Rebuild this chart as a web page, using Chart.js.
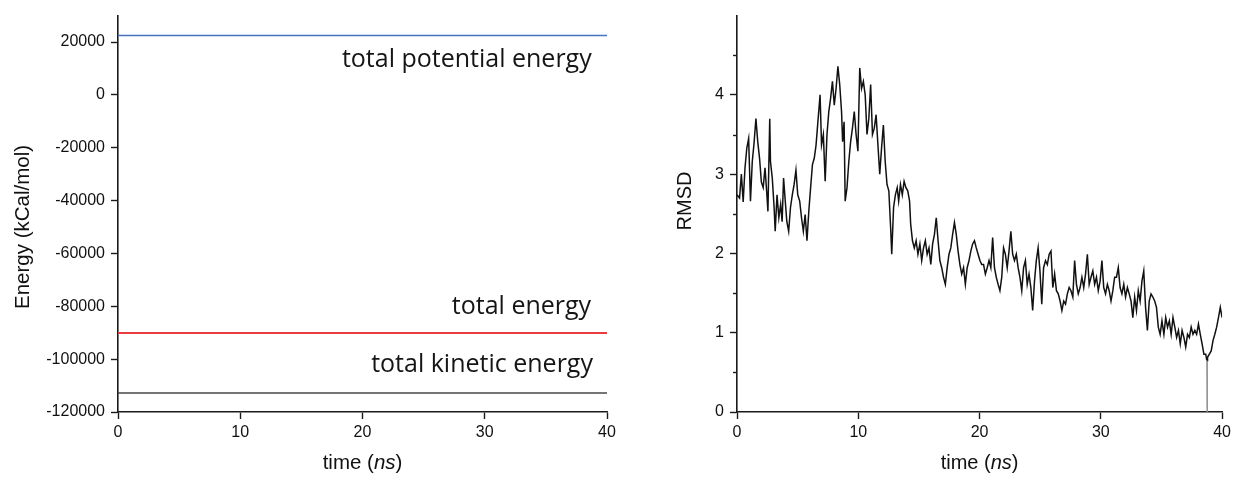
<!DOCTYPE html>
<html>
<head>
<meta charset="utf-8">
<script src="https://cdn.jsdelivr.net/npm/chart.js@4.4.1/dist/chart.umd.min.js"></script>
<style>
  body { margin: 0; background: #fff; }
  #energyBox { position: absolute; left: 0; top: 0; width: 620px; height: 477px; }
  #rmsdBox { position: absolute; left: 620px; top: 0; width: 615px; height: 477px; }
</style>
</head>
<body>
<div id="energyBox"><canvas id="energyChart"></canvas></div>
<div id="rmsdBox"><canvas id="rmsdChart"></canvas></div>
<script>
// energy traces (kCal/mol) over the 40 ns run
const energyTime = [0, 10, 20, 30, 40];
const potentialEnergy = [22500, 22500, 22500, 22500, 22500];
const totalEnergy = [-90100, -90100, -90100, -90100, -90100];
const kineticEnergy = [-112800, -112800, -112800, -112800, -112800];

const energyTicks = [-120000, -100000, -80000, -60000, -40000, -20000, 0, 20000];
const timeTicks = [0, 10, 20, 30, 40];

// labels placed next to the energy traces: right edge (ns) and baseline (kCal/mol)
const energyLabels = ['total potential energy', 'total energy', 'total kinetic energy'];
const energyLabelX = [38.75, 38.7, 38.85];
const energyLabelY = [10600, -83000, -105000];

// backbone RMSD
const rmsdTime = [
  0.00, 0.21, 0.36, 0.51, 0.66, 0.81, 0.96, 1.11, 1.26, 1.41, 1.56, 1.71, 1.86, 2.01, 2.16, 2.31, 2.46, 2.55, 2.70, 2.76,
  2.91, 3.06, 3.15, 3.30, 3.45, 3.60, 3.72, 3.84, 3.96, 4.11, 4.26, 4.41, 4.56, 4.71, 4.86, 5.01, 5.17, 5.32, 5.47, 5.62,
  5.77, 5.92, 6.07, 6.22, 6.37, 6.52, 6.67, 6.85, 6.97, 7.12, 7.27, 7.42, 7.57, 7.72, 7.87, 8.02, 8.17, 8.32, 8.47, 8.62,
  8.71, 8.83, 8.92, 9.07, 9.22, 9.37, 9.52, 9.67, 9.82, 9.97, 10.12, 10.27, 10.42, 10.57, 10.72, 10.87, 11.02, 11.17, 11.32, 11.47,
  11.62, 11.77, 11.92, 12.07, 12.22, 12.37, 12.52, 12.67, 12.76, 12.91, 13.06, 13.21, 13.33, 13.48, 13.63, 13.78, 13.93, 14.08, 14.23, 14.32,
  14.47, 14.62, 14.77, 14.92, 15.08, 15.23, 15.38, 15.53, 15.68, 15.83, 15.98, 16.13, 16.28, 16.43, 16.58, 16.73, 16.88, 17.03, 17.18, 17.33,
  17.48, 17.63, 17.78, 17.93, 18.08, 18.23, 18.38, 18.53, 18.68, 18.83, 18.98, 19.13, 19.28, 19.43, 19.58, 19.73, 19.88, 20.03, 20.18, 20.33,
  20.48, 20.63, 20.78, 20.93, 21.08, 21.23, 21.38, 21.53, 21.68, 21.83, 21.98, 22.13, 22.28, 22.43, 22.58, 22.73, 22.88, 23.03, 23.18, 23.33,
  23.48, 23.63, 23.78, 23.93, 24.08, 24.23, 24.38, 24.53, 24.68, 24.83, 24.98, 25.13, 25.28, 25.44, 25.59, 25.74, 25.89, 26.04, 26.19, 26.34,
  26.49, 26.64, 26.79, 26.94, 27.09, 27.24, 27.39, 27.54, 27.69, 27.84, 27.99, 28.14, 28.29, 28.44, 28.59, 28.74, 28.89, 29.04, 29.19, 29.34,
  29.49, 29.64, 29.79, 29.94, 30.09, 30.24, 30.39, 30.54, 30.69, 30.84, 30.99, 31.14, 31.29, 31.44, 31.59, 31.74, 31.89, 32.04, 32.19, 32.34,
  32.49, 32.64, 32.79, 32.94, 33.09, 33.24, 33.39, 33.54, 33.69, 33.84, 33.99, 34.14, 34.29, 34.44, 34.59, 34.74, 34.89, 35.04, 35.20, 35.35,
  35.50, 35.65, 35.80, 35.95, 36.10, 36.25, 36.40, 36.55, 36.70, 36.85, 37.00, 37.15, 37.30, 37.45, 37.60, 37.75, 37.90, 38.05, 38.20, 38.35,
  38.50, 38.65, 38.74, 38.76, 38.78, 38.80, 38.95, 39.10, 39.25, 39.40, 39.55, 39.70, 39.85, 40.00
];
const rmsdValue = [
  2.74, 2.70, 3.00, 2.65, 3.08, 3.33, 3.45, 2.66, 3.16, 3.40, 3.70, 3.41, 3.20, 2.90, 2.83, 3.08, 2.75, 2.53, 3.70, 3.16,
  2.95, 2.58, 2.28, 2.74, 2.45, 2.62, 2.40, 2.95, 2.70, 2.40, 2.28, 2.58, 2.74, 2.87, 3.05, 2.74, 2.66, 2.45, 2.28, 2.49,
  2.16, 2.53, 2.83, 3.12, 3.20, 3.37, 3.66, 4.00, 3.37, 3.50, 2.91, 3.50, 3.79, 3.96, 4.17, 3.87, 4.08, 4.36, 4.13, 3.79,
  3.41, 3.66, 2.66, 2.83, 3.16, 3.41, 3.58, 3.79, 3.50, 3.29, 4.34, 4.08, 4.17, 4.00, 3.50, 3.70, 4.13, 3.50, 3.58, 3.75,
  3.37, 3.00, 3.33, 3.62, 3.16, 2.87, 2.79, 2.32, 1.99, 2.58, 2.74, 2.83, 2.66, 2.87, 2.74, 2.91, 2.83, 2.79, 2.66, 2.37,
  2.16, 2.07, 2.16, 1.99, 2.12, 1.91, 2.07, 2.16, 1.99, 2.07, 1.86, 2.12, 2.24, 2.45, 2.16, 1.91, 1.82, 1.70, 1.61, 1.82,
  1.99, 2.07, 2.24, 2.39, 2.24, 2.03, 1.86, 1.74, 1.82, 1.61, 1.82, 1.91, 2.03, 2.12, 2.16, 2.07, 1.99, 1.91, 1.86, 1.86,
  1.74, 1.82, 1.91, 1.82, 2.20, 1.82, 1.70, 1.61, 1.53, 1.70, 2.07, 1.99, 1.82, 2.03, 2.28, 1.99, 1.91, 1.99, 1.82, 1.70,
  1.53, 1.82, 1.91, 1.61, 1.74, 1.57, 1.28, 1.65, 1.91, 2.07, 1.78, 1.36, 1.82, 1.91, 1.86, 1.99, 2.03, 1.57, 1.74, 1.53,
  1.49, 1.40, 1.28, 1.40, 1.36, 1.49, 1.57, 1.53, 1.45, 1.91, 1.61, 1.49, 1.57, 1.70, 1.57, 1.74, 1.99, 1.61, 1.70, 1.78,
  1.61, 1.70, 1.53, 1.65, 1.91, 1.57, 1.49, 1.61, 1.53, 1.40, 1.53, 1.70, 1.70, 1.82, 1.57, 1.49, 1.61, 1.45, 1.57, 1.49,
  1.40, 1.19, 1.45, 1.28, 1.53, 1.40, 1.65, 1.78, 1.32, 1.03, 1.40, 1.49, 1.45, 1.40, 1.32, 1.07, 0.98, 1.15, 0.98, 1.19,
  1.07, 1.15, 0.98, 1.19, 1.07, 0.94, 1.03, 0.86, 1.03, 0.94, 0.82, 0.98, 0.94, 1.07, 0.98, 1.03, 0.98, 1.11, 0.98, 0.86,
  0.73, 0.73, 0.65, 0.00, 0.65, 0.69, 0.73, 0.77, 0.90, 0.98, 1.07, 1.19, 1.32, 1.19
];
const rmsdTicks = [0, 1, 2, 3, 4];
const rmsdMinorTicks = [0.5, 1.5, 2.5, 3.5, 4.5];

const tickFont = { family: 'Liberation Sans, Arial, sans-serif', size: 16 };
const titleFamily = 'Liberation Sans, Arial, sans-serif';
const axisColor = '#1a1a1a';

function pairs(xs, ys) {
  return xs.map((x, i) => ({ x: x, y: ys[i] }));
}

function keepTicks(list) {
  return scale => {
    scale.ticks = list.map(v => ({ value: v }));
  };
}

// the single frame that drops to zero is drawn as a thin grey stroke
function touchesZero(seg) {
  return seg.p0.parsed.y === 0 || seg.p1.parsed.y === 0;
}

function xAxis() {
  return {
    type: 'linear',
    min: 0,
    max: 40,
    afterBuildTicks: keepTicks(timeTicks),
    afterFit: s => { s.height = 65; },
    border: { color: axisColor, width: 1.6 },
    grid: { drawOnChartArea: false, tickLength: 7, color: axisColor, tickWidth: 1.4 },
    ticks: { font: tickFont, color: '#111', padding: 4, maxRotation: 0 }
  };
}

// axis titles, side labels and minor ticks drawn straight onto the canvas
const decorations = {
  id: 'decorations',
  afterDraw(chart, args, opts) {
    const ctx = chart.ctx;
    const area = chart.chartArea;
    const xs = chart.scales.x;
    const ys = chart.scales.y;
    const size = opts.titleSize;
    ctx.save();
    ctx.fillStyle = '#111';

    // x title with the unit in italics
    ctx.font = size + 'px ' + titleFamily;
    const a = 'time (', b = 'ns', c = ')';
    const wa = ctx.measureText(a).width;
    const wc = ctx.measureText(c).width;
    ctx.font = 'italic ' + size + 'px ' + titleFamily;
    const wb = ctx.measureText(b).width;
    const x0 = (area.left + area.right) / 2 - (wa + wb + wc) / 2;
    const base = 469;
    ctx.textBaseline = 'alphabetic';
    ctx.textAlign = 'left';
    ctx.font = size + 'px ' + titleFamily;
    ctx.fillText(a, x0, base);
    ctx.font = 'italic ' + size + 'px ' + titleFamily;
    ctx.fillText(b, x0 + wa, base);
    ctx.font = size + 'px ' + titleFamily;
    ctx.fillText(c, x0 + wa + wb, base);

    // y title
    ctx.save();
    ctx.translate(opts.yTitleX, opts.yTitleY);
    ctx.rotate(-Math.PI / 2);
    ctx.textAlign = 'center';
    ctx.textBaseline = 'middle';
    ctx.font = size + 'px ' + titleFamily;
    ctx.fillText(opts.yTitle, 0, 0);
    ctx.restore();

    // short unlabeled ticks
    ctx.strokeStyle = axisColor;
    ctx.lineWidth = 1.4;
    (opts.minor || []).forEach(v => {
      const py = Math.round(ys.getPixelForValue(v)) + 0.5;
      ctx.beginPath();
      ctx.moveTo(area.left - 4, py);
      ctx.lineTo(area.left, py);
      ctx.stroke();
    });

    // trace labels
    ctx.textAlign = 'right';
    ctx.textBaseline = 'alphabetic';
    ctx.font = '25px "Open Sans", sans-serif';
    ctx.fillStyle = '#151515';
    (opts.labels || []).forEach((t, i) => {
      ctx.fillText(t, xs.getPixelForValue(opts.labelX[i]), ys.getPixelForValue(opts.labelY[i]));
    });
    ctx.restore();
  }
};

new Chart(document.getElementById('energyChart'), {
  type: 'line',
  data: {
    datasets: [
      { data: pairs(energyTime, potentialEnergy), borderColor: '#4a72bf', borderWidth: 1.5 },
      { data: pairs(energyTime, totalEnergy), borderColor: '#ec3b3f', borderWidth: 1.8 },
      { data: pairs(energyTime, kineticEnergy), borderColor: '#474747', borderWidth: 1.6 }
    ]
  },
  options: {
    responsive: true,
    maintainAspectRatio: false,
    animation: false,
    layout: { padding: { top: 13, right: 13, left: 0, bottom: 0 } },
    elements: { point: { radius: 0 }, line: { tension: 0 } },
    plugins: {
      legend: { display: false },
      tooltip: { enabled: false },
      decorations: {
        titleSize: 20.5,
        yTitle: 'Energy (kCal/mol)', yTitleX: 23, yTitleY: 227,
        labels: energyLabels, labelX: energyLabelX, labelY: energyLabelY
      }
    },
    scales: {
      x: xAxis(),
      y: {
        type: 'linear',
        min: -120000,
        max: 30000,
        afterBuildTicks: keepTicks(energyTicks),
        afterFit: s => { s.width = 118; },
        border: { color: axisColor, width: 1.6 },
        grid: { drawOnChartArea: false, tickLength: 7, color: axisColor, tickWidth: 1.4 },
        ticks: { font: tickFont, color: '#111', padding: 6, callback: v => String(v) }
      }
    }
  },
  plugins: [decorations]
});

new Chart(document.getElementById('rmsdChart'), {
  type: 'line',
  data: {
    datasets: [{
      data: pairs(rmsdTime, rmsdValue),
      borderColor: '#111',
      borderWidth: 1.5,
      segment: {
        borderColor: seg => touchesZero(seg) ? '#8a8a8a' : undefined,
        borderWidth: seg => touchesZero(seg) ? 1 : undefined
      }
    }]
  },
  options: {
    responsive: true,
    maintainAspectRatio: false,
    animation: false,
    layout: { padding: { top: 13, right: 11, left: 0, bottom: 0 } },
    elements: { point: { radius: 0 }, line: { tension: 0 } },
    plugins: {
      legend: { display: false },
      tooltip: { enabled: false },
      decorations: { titleSize: 20, yTitle: 'RMSD', yTitleX: 65, yTitleY: 201, minor: rmsdMinorTicks }
    },
    scales: {
      x: xAxis(),
      y: {
        type: 'linear',
        min: 0,
        max: 5,
        afterBuildTicks: keepTicks(rmsdTicks),
        afterFit: s => { s.width = 117; },
        border: { color: axisColor, width: 1.6 },
        grid: { drawOnChartArea: false, tickLength: 7, color: axisColor, tickWidth: 1.4 },
        ticks: { font: tickFont, color: '#111', padding: 6 }
      }
    }
  },
  plugins: [decorations]
});
</script>
</body>
</html>
